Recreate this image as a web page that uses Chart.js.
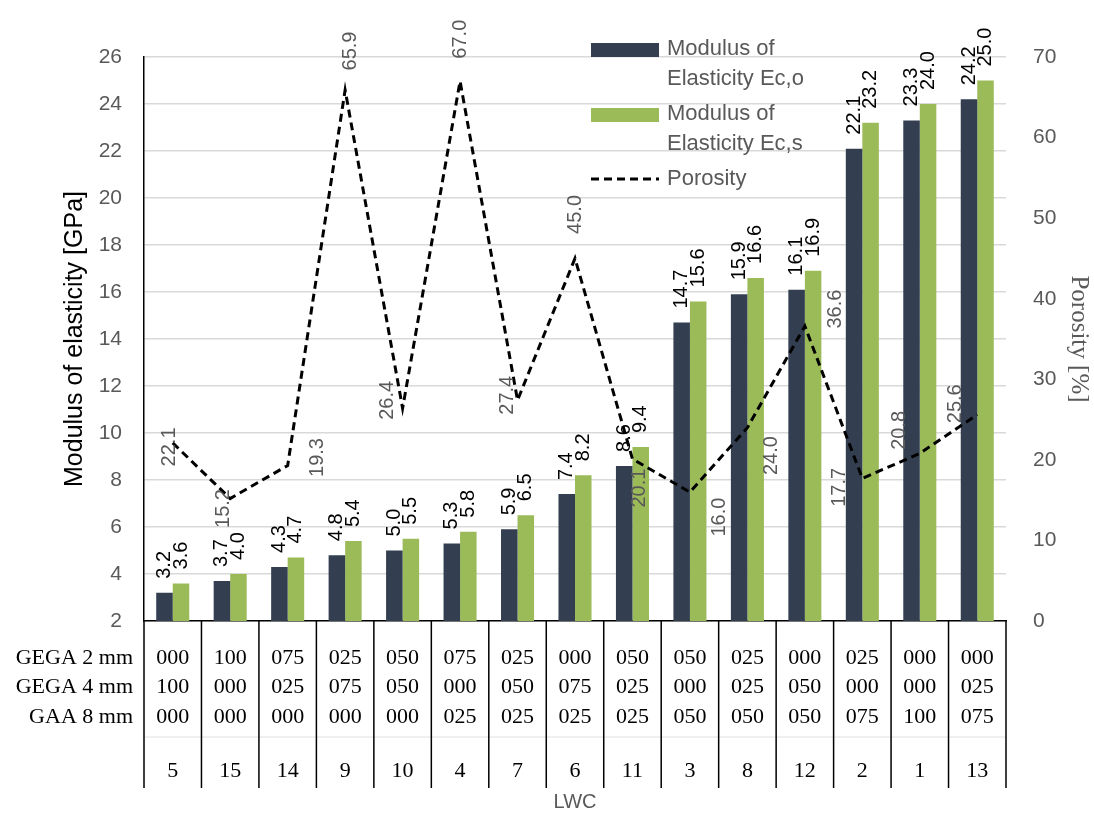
<!DOCTYPE html>
<html>
<head>
<meta charset="utf-8">
<script src="https://cdn.jsdelivr.net/npm/chart.js@4.4.1/dist/chart.umd.min.js"></script>
<style>
  html, body { margin: 0; padding: 0; background: #fff; }
  #wrap { width: 1094px; height: 816px; position: relative; }
</style>
</head>
<body>
<div id="wrap"><canvas id="chart"></canvas></div>
<script>
// LWC mixes, in the order they are plotted
const lwc = ['5', '15', '14', '9', '10', '4', '7', '6', '11', '3', '8', '12', '2', '1', '13'];
const gega2 = ['000', '100', '075', '025', '050', '075', '025', '000', '050', '050', '025', '000', '025', '000', '000'];
const gega4 = ['100', '000', '025', '075', '050', '000', '050', '075', '025', '000', '025', '050', '000', '000', '025'];
const gaa8 = ['000', '000', '000', '000', '000', '025', '025', '025', '025', '050', '050', '050', '075', '100', '075'];
const rowNames = ['GEGA 2 mm', 'GEGA 4 mm', 'GAA 8 mm'];

// values
const ecO = [3.2, 3.7, 4.3, 4.8, 5.0, 5.3, 5.9, 7.4, 8.6, 14.7, 15.9, 16.1, 22.1, 23.3, 24.2];
const ecS = [3.6, 4.0, 4.7, 5.4, 5.5, 5.8, 6.5, 8.2, 9.4, 15.6, 16.6, 16.9, 23.2, 24.0, 25.0];
const porosity = [22.1, 15.2, 19.3, 65.9, 26.4, 67.0, 27.4, 45.0, 20.1, 16.0, 24.0, 36.6, 17.7, 20.8, 25.6];

// where each porosity label sits relative to its point (px)
const porosityLabelShift = [[-3, 4], [-7, 10], [30, -8], [5, -39], [-15, -8], [0, -42], [-10, -5], [0, -44],
  [7, 29], [30, 25], [24, 28], [31, -17], [-23, 9], [-20, -23], [-22, -11]];

const SANS = '"Liberation Sans", Arial, sans-serif';
const SERIF = '"Liberation Serif", "DejaVu Serif", serif';
const GREY = '#595959';

const valueLabels = {
  id: 'valueLabels',
  afterDatasetsDraw(chart) {
    const ctx = chart.ctx;
    ctx.save();
    ctx.font = '20px ' + SANS;
    ctx.textBaseline = 'middle';
    chart.data.datasets.forEach((ds, di) => {
      const meta = chart.getDatasetMeta(di);
      meta.data.forEach((el, i) => {
        const txt = ds.data[i].toFixed(1);
        ctx.save();
        if (ds.type === 'line') {
          const s = porosityLabelShift[i];
          ctx.translate(el.x + s[0], el.y + s[1]);
          ctx.textAlign = 'center';
          ctx.fillStyle = GREY;
        } else {
          ctx.translate(el.x, el.y - 14);
          ctx.textAlign = 'left';
          ctx.fillStyle = '#000';
        }
        ctx.rotate(-Math.PI / 2);
        ctx.fillText(txt, 0, 0);
        ctx.restore();
      });
    });
    ctx.restore();
  }
};

// data table under the x axis
const mixTable = {
  id: 'mixTable',
  afterDraw(chart) {
    const ctx = chart.ctx;
    const x = chart.scales.x;
    const top = chart.chartArea.bottom;
    const half = (x.getPixelForValue(1) - x.getPixelForValue(0)) / 2;
    const n = lwc.length;
    ctx.save();
    // faint separator above the LWC numbers
    ctx.strokeStyle = '#E0E0E0';
    ctx.lineWidth = 1;
    ctx.beginPath();
    ctx.moveTo(x.left, top + 116);
    ctx.lineTo(x.right, top + 116);
    ctx.stroke();

    ctx.strokeStyle = '#000';
    ctx.lineWidth = 1.5;
    ctx.beginPath();
    for (let i = 0; i <= n; i++) {
      const bx = i < n ? x.getPixelForValue(i) - half : x.getPixelForValue(n - 1) + half;
      ctx.moveTo(bx, top);
      ctx.lineTo(bx, top + 167);
    }
    ctx.stroke();

    ctx.fillStyle = '#000';
    ctx.font = '22px ' + SERIF;
    ctx.textBaseline = 'middle';
    const rowY = [top + 37, top + 66, top + 96];
    ctx.textAlign = 'right';
    rowNames.forEach((r, k) => ctx.fillText(r, x.left - 11, rowY[k]));
    ctx.textAlign = 'center';
    [gega2, gega4, gaa8].forEach((row, k) => {
      row.forEach((v, i) => ctx.fillText(v, x.getPixelForValue(i), rowY[k]));
    });
    lwc.forEach((v, i) => ctx.fillText(v, x.getPixelForValue(i), top + 150));
    ctx.restore();
  }
};

// legend, wrapped like the original
const sideLegend = {
  id: 'sideLegend',
  afterDraw(chart) {
    const ctx = chart.ctx;
    const x0 = 591, w = 68, tx = 667;
    ctx.save();
    ctx.font = '22px ' + SANS;
    ctx.fillStyle = GREY;
    ctx.textBaseline = 'middle';
    ctx.textAlign = 'left';
    const ds = chart.data.datasets;
    // bars
    [[0, 50, 79], [1, 115, 144]].forEach(([di, y1, y2]) => {
      ctx.fillStyle = ds[di].backgroundColor;
      ctx.fillRect(x0, y1 - 7, w, 14);
      ctx.fillStyle = GREY;
      const words = ds[di].label.split(' ');
      ctx.fillText(words.slice(0, 2).join(' '), tx, y1 - 1);
      ctx.fillText(words.slice(2).join(' '), tx, y2);
    });
    ctx.strokeStyle = '#000';
    ctx.lineWidth = 3;
    ctx.setLineDash([8, 5]);
    ctx.beginPath();
    ctx.moveTo(x0, 179);
    ctx.lineTo(x0 + w, 179);
    ctx.stroke();
    ctx.fillText(ds[2].label, tx, 179);
    ctx.restore();
  }
};

new Chart(document.getElementById('chart'), {
  data: {
    labels: lwc,
    datasets: [
      {
        type: 'bar',
        label: 'Modulus of Elasticity Ec,o',
        data: ecO,
        backgroundColor: '#333F50',
        yAxisID: 'y',
        order: 2
      },
      {
        type: 'bar',
        label: 'Modulus of Elasticity Ec,s',
        data: ecS,
        backgroundColor: '#9BBB59',
        yAxisID: 'y',
        order: 2
      },
      {
        type: 'line',
        label: 'Porosity',
        data: porosity,
        borderColor: '#000',
        borderWidth: 3,
        borderDash: [8, 5],
        pointRadius: 0,
        tension: 0,
        fill: false,
        yAxisID: 'y1',
        order: 1
      }
    ]
  },
  options: {
    responsive: true,
    maintainAspectRatio: false,
    animation: false,
    layout: { padding: { top: 57, right: 0, bottom: 0, left: 0 } },
    datasets: {
      bar: { categoryPercentage: 0.575, barPercentage: 1.0 }
    },
    plugins: {
      legend: { display: false },
      tooltip: { enabled: false }
    },
    scales: {
      x: {
        type: 'category',
        offset: true,
        ticks: { display: false },
        grid: { display: false },
        border: { color: '#000', width: 1.5 },
        title: {
          display: true,
          text: 'LWC',
          color: GREY,
          font: { family: SANS, size: 20 },
          padding: { top: 0, bottom: 2 }
        },
        afterFit(s) { s.height = 195; }
      },
      y: {
        position: 'left',
        min: 2,
        max: 26,
        ticks: { stepSize: 2, color: GREY, padding: 22, font: { family: SANS, size: 21 } },
        grid: { color: '#D9D9D9', lineWidth: 1.5, drawTicks: false },
        border: { color: '#000', width: 1.5 },
        title: {
          display: true,
          text: 'Modulus of elasticity [GPa]',
          color: '#000',
          font: { family: SANS, size: 25 },
          padding: { top: 60, bottom: 0 }
        },
        afterFit(s) { s.width = 144; }
      },
      y1: {
        position: 'right',
        min: 0,
        max: 70,
        ticks: { stepSize: 10, color: GREY, padding: 27, font: { family: SANS, size: 21 } },
        grid: { drawOnChartArea: false, drawTicks: false },
        border: { display: false },
        title: {
          display: true,
          text: 'Porosity [%]',
          color: GREY,
          font: { family: SERIF, size: 25 },
          padding: { top: 0, bottom: 0 }
        },
        afterFit(s) { s.width = 88; }
      }
    }
  },
  plugins: [valueLabels, mixTable, sideLegend]
});
</script>
</body>
</html>
